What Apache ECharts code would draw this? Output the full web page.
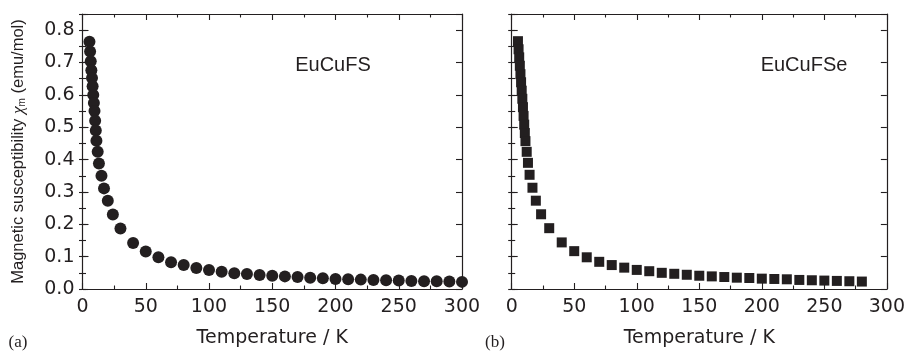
<!DOCTYPE html>
<html>
<head>
<meta charset="utf-8">
<script src="https://cdn.jsdelivr.net/npm/echarts@6/dist/echarts.min.js"></script>
<style>
  html, body { margin: 0; padding: 0; background: #fff; }
  #chart { width: 908px; height: 353px; }
</style>
</head>
<body>
<div id="chart"></div>
<script>
// (a) EuCuFS, circles
const tempA = [5.5, 6, 6.5, 7, 7.5, 8, 8.5, 9, 9.5, 10, 10.5, 11, 12, 13, 15, 17, 20, 24,
  30, 40, 50, 60, 70, 80, 90, 100, 110, 120, 130, 140, 150, 160, 170, 180, 190, 200,
  210, 220, 230, 240, 250, 260, 270, 280, 290, 300];
const chiA = [0.764, 0.734, 0.704, 0.676, 0.652, 0.627, 0.600, 0.575, 0.550, 0.520, 0.490, 0.458,
  0.424, 0.388, 0.350, 0.311, 0.273, 0.230,
  0.187, 0.142, 0.116, 0.098, 0.083, 0.074, 0.065, 0.059, 0.053, 0.049, 0.046, 0.043, 0.041,
  0.039, 0.037, 0.035, 0.033, 0.031, 0.030, 0.029, 0.028, 0.027, 0.026, 0.025, 0.024, 0.024,
  0.023, 0.022];

// (b) EuCuFSe, squares
const tempB = [5, 5.5, 6, 6.5, 7, 7.5, 8, 8.5, 9, 9.5, 10, 10.5, 11, 12, 13, 14.3, 16.6, 19.3, 23.5,
  30, 40, 50, 60, 70, 80, 90, 100, 110, 120, 130, 140, 150, 160, 170, 180, 190, 200,
  210, 220, 230, 240, 250, 260, 270, 280];
const chiB = [0.766, 0.741, 0.716, 0.690, 0.664, 0.639, 0.613, 0.588, 0.562, 0.535, 0.508, 0.482,
  0.457, 0.424, 0.390, 0.353, 0.313, 0.273, 0.231,
  0.188, 0.144, 0.117, 0.098, 0.084, 0.074, 0.066, 0.059, 0.055, 0.050, 0.047, 0.044, 0.041,
  0.039, 0.037, 0.035, 0.034, 0.032, 0.031, 0.030, 0.028, 0.027, 0.026, 0.025, 0.024, 0.023];

const panelLabels = ["(a)", "(b)"];
const sampleNames = ["EuCuFS", "EuCuFSe"];
const xName = "Temperature / K";

const ink = "#231f20";
const tickFont = "DejaVu Sans";

const chart = echarts.init(document.getElementById("chart"));

const grids = [
  { left: 82.5, top: 14, width: 379.5, height: 277.7 },
  { left: 511.7, top: 14, width: 378.3, height: 277.7 },
];

const line = { show: true, onZero: false, lineStyle: { color: ink, width: 1.2 } };

function xAxes(gi) {
  const base = {
    gridIndex: gi, type: "value", min: 0, max: 300, interval: 50,
    axisLine: line, splitLine: { show: false },
    axisTick: { inside: true, length: 6, lineStyle: { color: ink, width: 1.1 } },
    minorTick: { show: true, splitNumber: 2, length: 3.5, lineStyle: { color: ink, width: 1.1 } },
  };
  return [
    Object.assign({}, base, {
      position: "bottom",
      axisLabel: { margin: 9, color: ink, fontSize: 19, fontFamily: tickFont },
      name: xName, nameLocation: "middle", nameGap: 40,
      nameTextStyle: { color: ink, fontSize: 19, fontFamily: tickFont },
    }),
    Object.assign({}, base, { position: "top", axisLabel: { show: false } }),
  ];
}

function yAxes(gi) {
  const major = {
    gridIndex: gi, type: "value", min: 0, max: 0.85, interval: 0.1,
    axisLine: line, splitLine: { show: false },
    axisTick: { inside: true, length: 6, lineStyle: { color: ink, width: 1.1 } },
    axisLabel: { show: false },
  };
  const minor = {
    gridIndex: gi, type: "value", min: 0, max: 0.85, interval: 0.05,
    axisLine: { show: false }, splitLine: { show: false },
    axisTick: { inside: true, length: 3.5, lineStyle: { color: ink, width: 1.1 } },
    axisLabel: { show: false },
  };
  const left = Object.assign({}, major, { position: "left" });
  if (gi === 0) {
    left.axisLabel = {
      show: true, margin: 8, color: ink, fontSize: 19, fontFamily: tickFont,
      formatter: (v) => (v > 0.801 ? "" : v.toFixed(1)),
    };
    left.name = "{n|Magnetic susceptibility }{c|χ}{s|m}{n| (emu/mol)}";
    left.nameLocation = "middle";
    left.nameRotate = 90;
    left.nameGap = 55;
    left.nameTextStyle = {
      rich: {
        n: { fontSize: 16.5, fontFamily: "Liberation Sans", color: ink },
        c: { fontSize: 17.5, fontFamily: "Liberation Serif", fontStyle: "italic", color: ink },
        s: { fontSize: 10, fontFamily: "Liberation Sans", color: ink, verticalAlign: "bottom" },
      },
    };
  }
  return [
    left,
    Object.assign({}, minor, { position: "left" }),
    Object.assign({}, major, { position: "right" }),
    Object.assign({}, minor, { position: "right" }),
  ];
}

function pairs(xs, ys) {
  return xs.map((x, i) => [x, ys[i]]);
}

const option = {
  animation: false,
  grid: grids,
  xAxis: [...xAxes(0), ...xAxes(1)],
  yAxis: [...yAxes(0), ...yAxes(1)],
  series: [
    {
      type: "scatter", xAxisIndex: 0, yAxisIndex: 0,
      symbol: "circle", symbolSize: 12,
      itemStyle: { color: ink, opacity: 1 },
      data: pairs(tempA, chiA),
    },
    {
      type: "scatter", xAxisIndex: 2, yAxisIndex: 4,
      symbol: "rect", symbolSize: 10,
      itemStyle: { color: ink, opacity: 1 },
      data: pairs(tempB, chiB),
    },
  ],
  graphic: [
    { type: "text", x: 333, y: 65, style: { text: sampleNames[0], fill: ink, font: "20px 'Liberation Sans'", align: "center", verticalAlign: "middle" } },
    { type: "text", x: 804, y: 65, style: { text: sampleNames[1], fill: ink, font: "20px 'Liberation Sans'", align: "center", verticalAlign: "middle" } },
    { type: "text", x: 18, y: 343, style: { text: panelLabels[0], fill: ink, font: "17px 'Liberation Serif'", align: "center", verticalAlign: "middle" } },
    { type: "text", x: 495, y: 343, style: { text: panelLabels[1], fill: ink, font: "17px 'Liberation Serif'", align: "center", verticalAlign: "middle" } },
  ],
};

chart.setOption(option);
</script>
</body>
</html>
